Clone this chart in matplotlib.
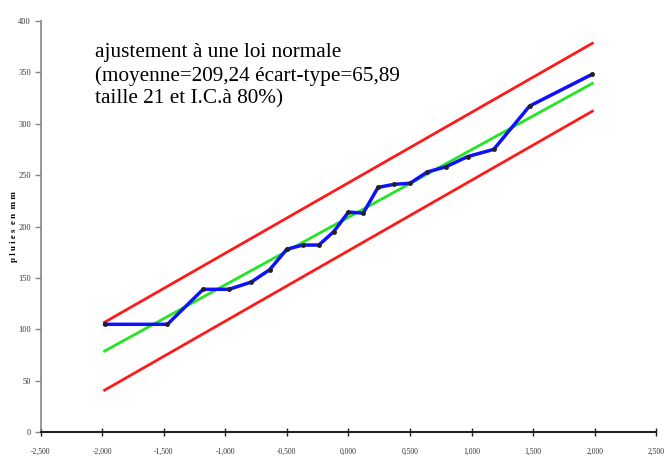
import numpy as np
import matplotlib.pyplot as plt

# normal quantiles (Hazen) and sorted rainfall values
quantiles = [-1.98, -1.47, -1.18, -0.97, -0.79, -0.64, -0.50, -0.37, -0.24, -0.12, 0.0,
             0.12, 0.24, 0.37, 0.50, 0.64, 0.79, 0.97, 1.18, 1.47, 1.98]
pluies = [105, 105, 139, 139, 146, 158, 178, 182, 182, 195, 214,
          213, 238, 241, 242, 253, 258, 268, 275, 317, 348]

# fitted line and 80% confidence bounds (end points)
fit_x = [-1.98, 1.98]
fit_y = [79, 339]
ic_haut = [107, 378]
ic_bas = [41, 312]

xticks = [-2.5, -2.0, -1.5, -1.0, -0.5, 0.0, 0.5, 1.0, 1.5, 2.0, 2.5]
xlabels = ['-2,500', '-2,000', '-1,500', '-1,000', '-0,500', '0,000',
           '0,500', '1,000', '1,500', '2,000', '2,500']
yticks = [0, 50, 100, 150, 200, 250, 300, 350, 400]

fig = plt.figure(figsize=(6.65, 4.59), dpi=100)
ax = fig.add_axes([0.061, 0.058, 0.926, 0.897])

ax.plot(fit_x, ic_haut, color='#ff1a1a', lw=2)
ax.plot(fit_x, ic_bas, color='#ff1a1a', lw=2)
ax.plot(fit_x, fit_y, color='#22e622', lw=2)
ax.plot(quantiles, pluies, color='#1010ff', lw=2.5, marker='o', ms=2.5,
        mfc='#222222', mec='#222222')

ax.set_xlim(-2.5, 2.5)
ax.set_ylim(0, 400)
ax.set_xticks(xticks)
ax.set_xticklabels(xlabels)
ax.set_yticks(yticks)
ax.set_yticklabels([str(v) for v in yticks])

for lab in ax.get_xticklabels():
    lab.set_family('Liberation Serif')
    lab.set_fontsize(5.5)
    lab.set_color('#333333')
for lab in ax.get_yticklabels():
    lab.set_family('Liberation Serif')
    lab.set_fontsize(6)
    lab.set_color('#333333')

ax.spines['top'].set_visible(False)
ax.spines['right'].set_visible(False)
ax.spines['left'].set_color('#888888')
ax.spines['left'].set_linewidth(1.2)
ax.spines['bottom'].set_color('#222222')
ax.spines['bottom'].set_linewidth(1.5)
ax.spines['bottom'].set_zorder(5)

ax.tick_params(axis='x', direction='inout', length=6, width=1, color='#222222', pad=8)
ax.tick_params(axis='y', direction='out', length=4, width=1, color='#888888', pad=3)

ax.set_ylabel('p l u i e s  e n  m m', family='Liberation Serif', fontsize=6.5,
              fontweight='bold')
ax.yaxis.set_label_coords(-0.036, 0.5)

ax.text(0.088, 0.945,
        'ajustement à une loi normale\n(moyenne=209,24 écart-type=65,89\ntaille 21 et I.C.à 80%)',
        transform=ax.transAxes, family='Liberation Serif', fontsize=15.3,
        va='top', ha='left', linespacing=1.26)

plt.savefig('out.png', dpi=100)
